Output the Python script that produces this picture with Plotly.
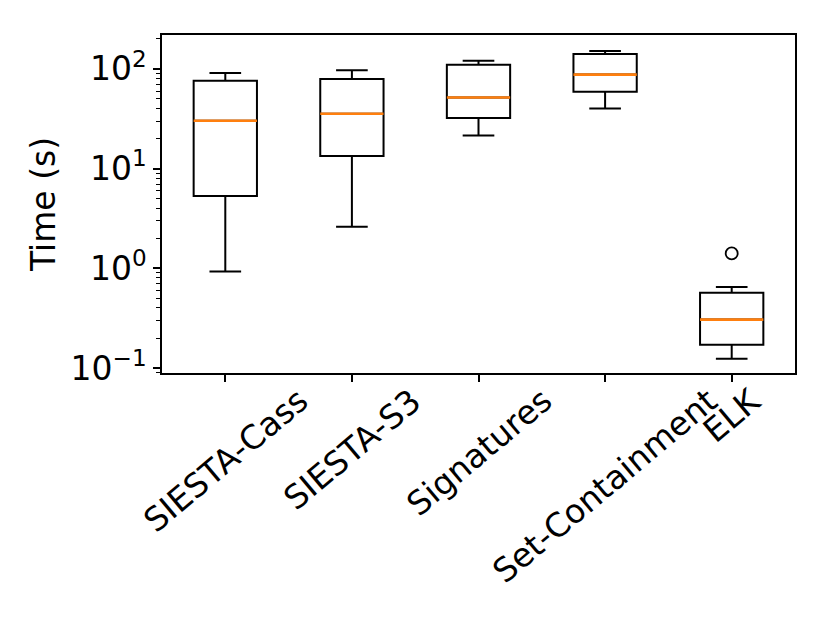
import plotly.graph_objects as go

categories = ["SIESTA-Cass", "SIESTA-S3", "Signatures", "Set-Containment", "ELK"]
positions = [1, 2, 3, 4, 5]
lower_whisker = [0.93, 2.61, 21.5, 40.1, 0.124]
q1 = [5.32, 13.4, 32.1, 58.9, 0.171]
median = [30.2, 35.5, 51.6, 87.7, 0.306]
q3 = [75.9, 79.4, 110.0, 141.0, 0.57]
upper_whisker = [91.0, 96.8, 121.0, 151.0, 0.65]
outlier_pos = [5]
outlier_val = [1.41]

y_tickvals = [0.1, 1, 10, 100]
y_ticktext = ["10<sup>\u22121</sup>", "10<sup>0</sup>", "10<sup>1</sup>", "10<sup>2</sup>"]
minor_vals = [m * 10 ** e for e in range(-2, 3) for m in range(2, 10)]

FONT = "DejaVu Sans"
FS = 33
BOX_W = 0.5

fig = go.Figure()
fig.add_trace(go.Box(
    x=positions, q1=q1, median=median, q3=q3,
    lowerfence=lower_whisker, upperfence=upper_whisker,
    width=BOX_W, whiskerwidth=0.5,
    line=dict(color="black", width=2),
    fillcolor="rgba(255,255,255,0)",
    boxpoints=False, showlegend=False, hoverinfo="skip",
))
for p, m in zip(positions, median):
    fig.add_trace(go.Scatter(
        x=[p - BOX_W / 2, p + BOX_W / 2], y=[m, m], mode="lines",
        line=dict(color="#ff7f0e", width=2.6), showlegend=False, hoverinfo="skip",
    ))
fig.add_trace(go.Scatter(
    x=outlier_pos, y=outlier_val, mode="markers",
    marker=dict(symbol="circle-open", size=12, color="black", line=dict(width=1.8)),
    showlegend=False, hoverinfo="skip",
))

for p, c in zip(positions, categories):
    fig.add_annotation(
        x=p, xref="x", y=0, yref="paper", text=c, showarrow=False,
        textangle=-40, xanchor="center", yanchor="top", yshift=-5,
        font=dict(family=FONT, size=FS, color="black"),
    )

fig.update_xaxes(
    range=[0.5, 5.5], tickvals=positions, showticklabels=False,
    ticks="outside", ticklen=7, tickwidth=1.6, tickcolor="black",
    showline=True, linecolor="black", linewidth=1.6, mirror=True,
    showgrid=False, zeroline=False,
)
fig.update_yaxes(
    type="log", range=[-1.05, 2.34],
    tickvals=y_tickvals, ticktext=y_ticktext,
    ticks="outside", ticklen=7, tickwidth=1.6, tickcolor="black",
    tickfont=dict(family=FONT, size=FS, color="black"),
    minor=dict(tickvals=minor_vals, ticks="outside", ticklen=4, tickwidth=1.2,
               tickcolor="black", showgrid=False),
    showline=True, linecolor="black", linewidth=1.6, mirror=True,
    showgrid=False, zeroline=False,
    title=dict(text="Time (s)", font=dict(family=FONT, size=FS, color="black"), standoff=5),
)
fig.update_layout(
    width=830, height=623,
    margin=dict(l=154, r=43, t=27, b=258),
    plot_bgcolor="white", paper_bgcolor="white",
    font=dict(family=FONT, color="black"),
)
fig.write_html("out.html")
